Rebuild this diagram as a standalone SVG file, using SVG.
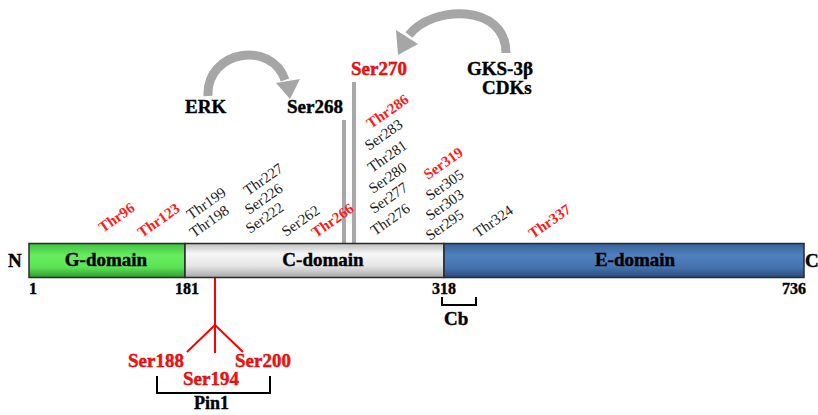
<svg xmlns="http://www.w3.org/2000/svg" width="818" height="415" viewBox="0 0 818 415">
<defs>
<linearGradient id="gG" x1="0" y1="0" x2="0" y2="1"><stop offset="0" stop-color="#3fbf3f"/><stop offset="0.35" stop-color="#66ee5e"/><stop offset="0.7" stop-color="#5be355"/><stop offset="1" stop-color="#2f9a2f"/></linearGradient>
<linearGradient id="gC" x1="0" y1="0" x2="0" y2="1"><stop offset="0" stop-color="#bdbdbd"/><stop offset="0.3" stop-color="#f6f6f6"/><stop offset="0.65" stop-color="#e6e6e6"/><stop offset="1" stop-color="#a9a9a9"/></linearGradient>
<linearGradient id="gE" x1="0" y1="0" x2="0" y2="1"><stop offset="0" stop-color="#36619a"/><stop offset="0.35" stop-color="#4f80be"/><stop offset="0.7" stop-color="#4673ae"/><stop offset="1" stop-color="#27497a"/></linearGradient>
</defs>
<style>
.b{font-family:"Liberation Serif","Times New Roman",serif;font-weight:bold;fill:#000;stroke:#000;stroke-width:0.4}
.r{font-family:"Liberation Serif","Times New Roman",serif;font-weight:bold;fill:#ff1010;stroke:#b00000;stroke-width:0.4}
.rs{font-family:"Liberation Serif","Times New Roman",serif;font-weight:bold;font-size:15px;fill:#ff1a1a}
.ks{font-family:"Liberation Serif","Times New Roman",serif;font-size:15px;fill:#1a1a1a}
.dom{stroke:#2a2a2a;stroke-width:1.5}
.gl{stroke:#a8a8a8;stroke-width:4;fill:none}
.arr{stroke:#a6a6a6;stroke-width:9;fill:none}
.ah{fill:#a6a6a6}
.red{stroke:#ff0000;stroke-width:2;fill:none}
.brk{stroke:#000;stroke-width:2;fill:none}
</style>

<g id="connectors">
<line class="gl" x1="344" y1="120" x2="344" y2="244"/>
<line class="gl" x1="354" y1="82" x2="354" y2="244"/>
<path class="arr" d="M208,96 C206,50 272,40 285,80"/>
<polygon class="ah" points="276,83 300,79 290,99"/>
<path class="arr" d="M506,53 C506,3 432,5 409,35"/>
<polygon class="ah" points="396,30 418,44 398,55"/>
<path class="red" d="M215,277 V353 M215,325 L187,352 M215,325 L243,352"/>
<path class="brk" d="M157,376 V393 H270 V376"/>
<path class="brk" d="M442,297 V305 H476 V297"/>
</g>

<g id="bar">
<rect id="g-domain" class="dom" x="29" y="243.5" width="156" height="34" fill="url(#gG)"/>
<rect id="c-domain" class="dom" x="185" y="243.5" width="259" height="34" fill="url(#gC)"/>
<rect id="e-domain" class="dom" x="444" y="243.5" width="360" height="34" fill="url(#gE)"/>
<text class="b" x="106" y="266" font-size="19" text-anchor="middle">G-domain</text>
<text class="b" x="323" y="266" font-size="19" text-anchor="middle">C-domain</text>
<text class="b" x="635" y="266" font-size="19" text-anchor="middle">E-domain</text>
<text class="b" x="8" y="267" font-size="19">N</text>
<text class="b" x="805" y="267" font-size="19">C</text>
<text class="b" x="29" y="294" font-size="16">1</text>
<text class="b" x="175" y="294" font-size="16">181</text>
<text class="b" x="432" y="294" font-size="16">318</text>
<text class="b" x="782" y="294" font-size="16">736</text>
</g>

<g id="cb"><text class="b" x="444" y="325" font-size="19">Cb</text></g>
<g id="pin1">
<text class="r" x="128" y="367" font-size="19">Ser188</text>
<text class="r" x="235" y="367" font-size="19">Ser200</text>
<text class="r" x="183" y="385" font-size="19">Ser194</text>
<text class="b" x="194" y="409" font-size="18">Pin1</text>
</g>

<g id="kinases">
<text class="b" x="185" y="113" font-size="19">ERK</text>
<text class="b" x="287" y="113" font-size="19">Ser268</text>
<text class="r" x="351" y="75" font-size="19">Ser270</text>
<text class="b" x="467" y="75" font-size="19">GKS-3β</text>
<text class="b" x="482" y="94" font-size="19">CDKs</text>
</g>

<g id="sites">
<text class="rs" transform="translate(103,233) rotate(-35)">Thr96</text>
<text class="rs" transform="translate(142,238) rotate(-35)">Thr123</text>
<text class="ks" transform="translate(191,220) rotate(-35)">Thr199</text>
<text class="ks" transform="translate(194,238) rotate(-35)">Thr198</text>
<text class="ks" transform="translate(248,196) rotate(-35)">Thr227</text>
<text class="ks" transform="translate(249,215) rotate(-35)">Ser226</text>
<text class="ks" transform="translate(250,234) rotate(-35)">Ser222</text>
<text class="ks" transform="translate(286,237) rotate(-35)">Ser262</text>
<text class="rs" transform="translate(316,238) rotate(-35)">Thr266</text>
<text class="rs" transform="translate(371,129) rotate(-35)">Thr286</text>
<text class="ks" transform="translate(369,151) rotate(-35)">Ser283</text>
<text class="ks" transform="translate(372,173) rotate(-35)">Thr281</text>
<text class="ks" transform="translate(373,194) rotate(-35)">Ser280</text>
<text class="ks" transform="translate(374,214) rotate(-35)">Ser277</text>
<text class="ks" transform="translate(375,236) rotate(-35)">Thr276</text>
<text class="rs" transform="translate(428,180) rotate(-35)">Ser319</text>
<text class="ks" transform="translate(430,201) rotate(-35)">Ser305</text>
<text class="ks" transform="translate(430,221) rotate(-35)">Ser303</text>
<text class="ks" transform="translate(430,241) rotate(-35)">Ser295</text>
<text class="ks" transform="translate(478,238) rotate(-35)">Thr324</text>
<text class="rs" transform="translate(533,239) rotate(-35)">Thr337</text>
</g>
</svg>
